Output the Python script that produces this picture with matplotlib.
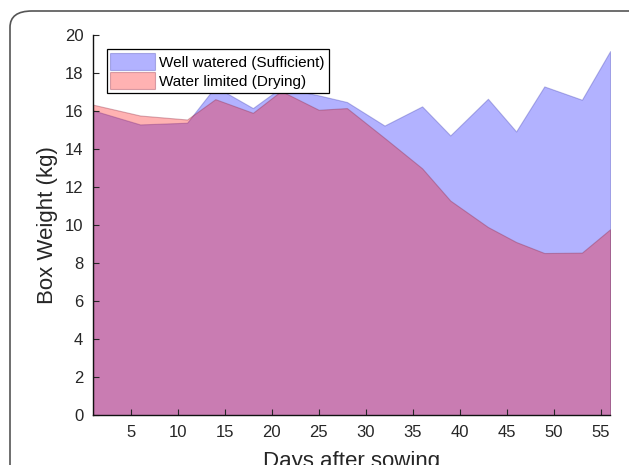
import numpy as np
import matplotlib.pyplot as plt
from matplotlib.patches import FancyBboxPatch

plt.rcParams['font.family'] = ['Liberation Sans', 'DejaVu Sans']

# Days after sowing
days = [1, 6, 11, 14, 18, 21, 25, 28, 32, 36, 39, 43, 46, 49, 53, 56]
# Box weight (kg)
well_watered = [16.05, 15.31, 15.40, 17.3, 16.17, 17.25, 16.84, 16.49,
                15.25, 16.26, 14.73, 16.66, 14.94, 17.31, 16.61, 19.17]
water_limited = [16.35, 15.78, 15.57, 16.64, 15.92, 17.07, 16.08, 16.17,
                 14.6, 13.0, 11.3, 9.91, 9.12, 8.54, 8.56, 9.79]

fig = plt.figure(figsize=(6.29, 4.65), dpi=100)
ax = fig.add_axes([0.148, 0.107, 0.822, 0.817])

ax.fill_between(days, 0, well_watered, facecolor=(0, 0, 1, 0.3),
                edgecolor=(0.25, 0.25, 0.7, 0.35), linewidth=0.8,
                label='Well watered (Sufficient)')
ax.fill_between(days, 0, water_limited, facecolor=(1, 0, 0, 0.3),
                edgecolor=(0.55, 0.15, 0.25, 0.35), linewidth=0.8,
                label='Water limited (Drying)')

ax.set_xlim(1, 56)
ax.set_ylim(0, 20)
ax.set_xticks(np.arange(5, 56, 5))
ax.set_yticks(np.arange(0, 21, 2))
ax.tick_params(direction='in', length=4, width=0.8, labelsize=12,
               colors='#262626', pad=7)
ax.spines['top'].set_visible(False)
ax.spines['right'].set_visible(False)
for s in ['left', 'bottom']:
    ax.spines[s].set_linewidth(1.0)
    ax.spines[s].set_color('#111111')
    ax.spines[s].set_zorder(5)

ax.set_xlabel('Days after sowing', fontsize=16, color='#262626', labelpad=8)
ax.set_ylabel('Box Weight (kg)', fontsize=16, color='#262626', labelpad=5)

leg = ax.legend(loc='upper left', bbox_to_anchor=(0.026, 0.963), fontsize=11,
                fancybox=False, edgecolor='black', framealpha=1,
                borderpad=0.25, labelspacing=0.15, handlelength=2.9,
                handleheight=1.3, handletextpad=0.3, borderaxespad=0)
leg.get_frame().set_linewidth(0.9)

# rounded frame around the panel (cut by the image edge)
frame = FancyBboxPatch((10 / 629, -0.1), 1.2, 1.1 - 11 / 465,
                       boxstyle='round,pad=0,rounding_size=0.035',
                       transform=fig.transFigure, fill=False,
                       edgecolor='#555555', linewidth=1.2, clip_on=False)
fig.patches.append(frame)

fig.savefig('out.png', dpi=100)
